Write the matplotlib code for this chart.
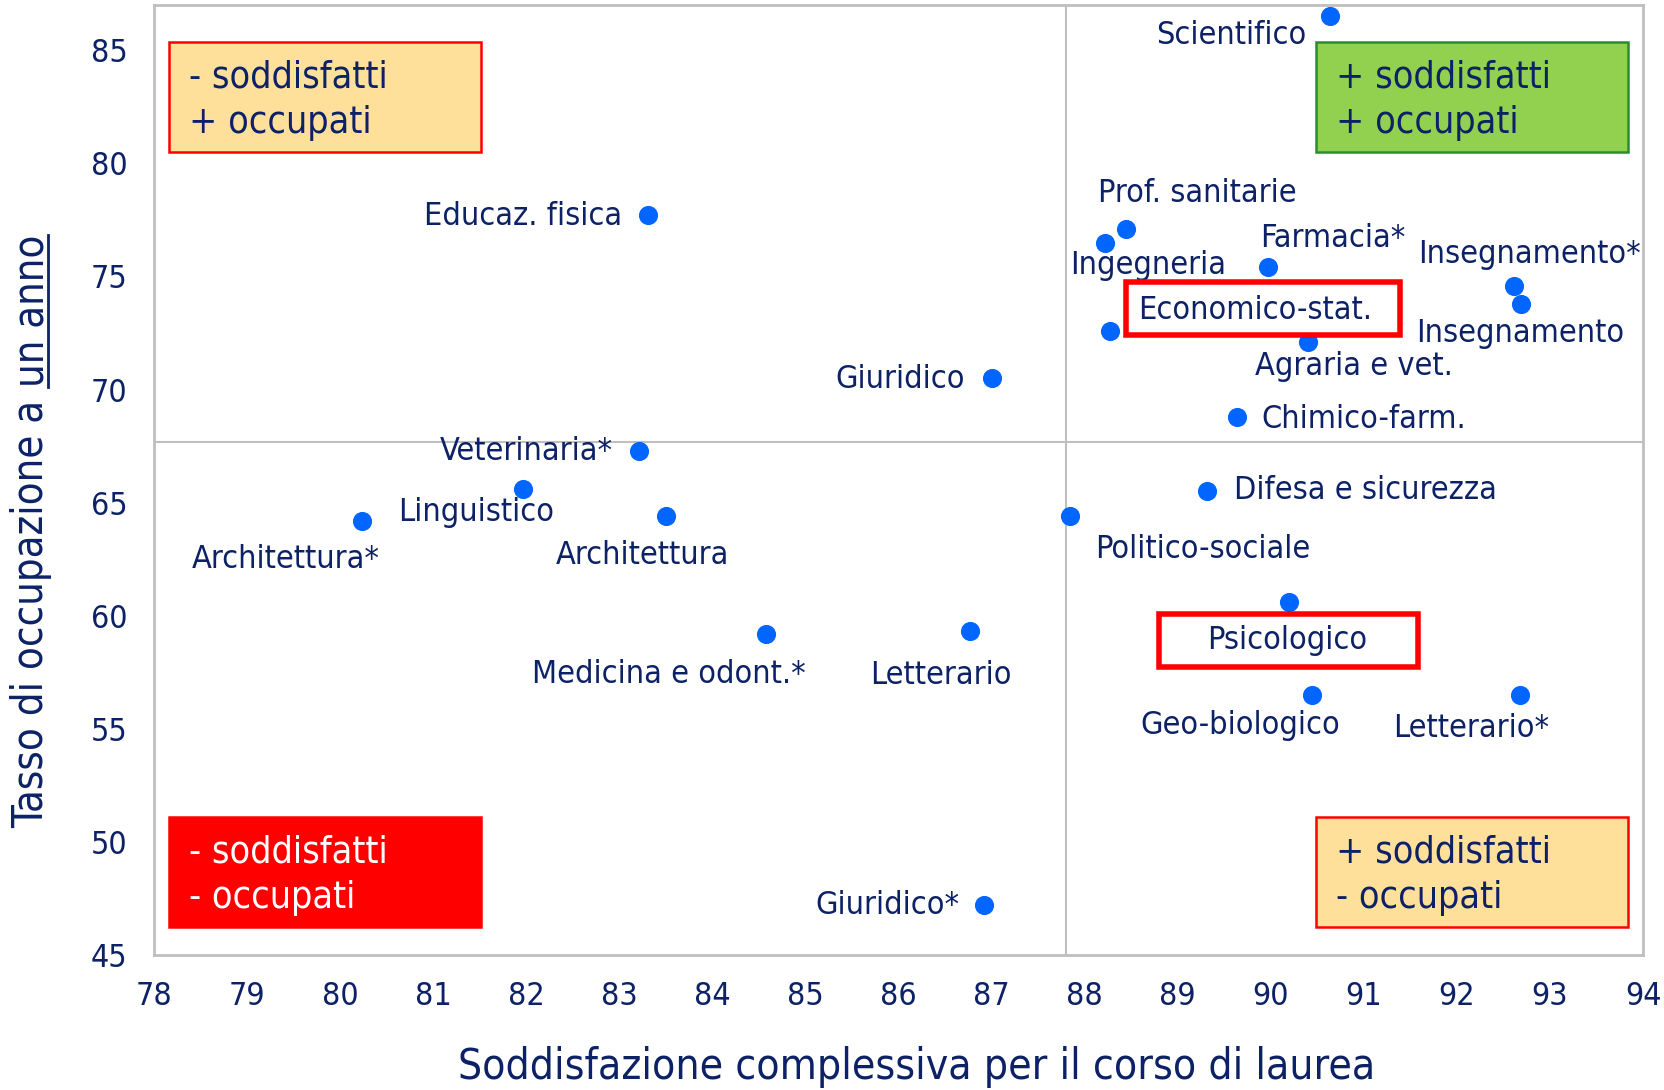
import matplotlib
matplotlib.use('Agg')
import matplotlib.pyplot as plt
from matplotlib.patches import Rectangle
from matplotlib.lines import Line2D

# Gruppi disciplinari: soddisfazione (x) e tasso di occupazione a un anno (y)
gruppi = ['Scientifico', 'Educaz. fisica', 'Prof. sanitarie', 'Ingegneria', 'Farmacia*',
          'Insegnamento*', 'Economico-stat.', 'Insegnamento', 'Agraria e vet.', 'Giuridico',
          'Chimico-farm.', 'Veterinaria*', 'Difesa e sicurezza', 'Linguistico', 'Architettura*',
          'Architettura', 'Politico-sociale', 'Psicologico', 'Medicina e odont.*', 'Letterario',
          'Geo-biologico', 'Letterario*', 'Giuridico*']
soddisfazione = [90.64, 83.31, 88.45, 88.22, 89.97,
                 92.61, 88.27, 92.69, 90.40, 87.00,
                 89.64, 83.21, 89.32, 81.97, 80.24,
                 83.50, 87.84, 90.20, 84.58, 86.77,
                 90.44, 92.68, 86.92]
occupazione = [86.5, 77.7, 77.1, 76.5, 75.4,
               74.6, 72.6, 73.8, 72.1, 70.5,
               68.8, 67.3, 65.5, 65.6, 64.2,
               64.4, 64.4, 60.6, 59.2, 59.3,
               56.5, 56.5, 47.2]
media_x = 87.8
media_y = 67.7

# spostamento delle etichette rispetto al punto (pixel)
off = {
    'Scientifico': (-99, -19), 'Educaz. fisica': (-125, -1), 'Prof. sanitarie': (71, 35),
    'Ingegneria': (43, -23), 'Farmacia*': (65, 29), 'Insegnamento*': (16, 31),
    'Economico-stat.': (145, 20), 'Insegnamento': (-1, -30), 'Agraria e vet.': (46, -24),
    'Giuridico': (-91, -1), 'Chimico-farm.': (126, -3), 'Veterinaria*': (-112, -1),
    'Difesa e sicurezza': (158, 1), 'Linguistico': (-47, -23), 'Architettura*': (-77, -39),
    'Architettura': (-23, -39), 'Politico-sociale': (133, -33), 'Psicologico': (-2, -38),
    'Medicina e odont.*': (-97, -41), 'Letterario': (-29, -44), 'Geo-biologico': (-71, -31),
    'Letterario*': (-49, -34), 'Giuridico*': (-97, 0),
}

blu = '#0D2266'
grigio = '#BFBFBF'

plt.rcParams['font.family'] = ['DejaVu Sans']
plt.rcParams['font.stretch'] = 'condensed'

fig = plt.figure(figsize=(16.64, 10.90), dpi=100)
ax = fig.add_axes([0.0925, 0.124, 0.8949, 0.8713])

ax.axvline(media_x, color=grigio, lw=1.5, zorder=1)
ax.axhline(media_y, color=grigio, lw=1.5, zorder=1)
ax.scatter(soddisfazione, occupazione, s=190, color='#0066FF', zorder=3, linewidths=0)

for nome, x, y in zip(gruppi, soddisfazione, occupazione):
    dx, dy = off[nome]
    ax.annotate(nome, (x, y), xytext=(dx, dy), textcoords='offset pixels',
                ha='center', va='center', fontsize=23.2, color=blu, zorder=4)

# riquadri rossi di evidenza
for x0, y0, w, h in [(0.6529, 0.6525, 0.1839, 0.0559), (0.675, 0.3028, 0.1739, 0.0559)]:
    ax.add_patch(Rectangle((x0, y0), w, h, transform=ax.transAxes, fill=False,
                           edgecolor='#FF0000', lw=4, zorder=5))

# quadranti
quadranti = [
    (0.0100, 0.845, '#FFE09A', '#FF0000', ['- soddisfatti', '+ occupati'], blu),
    (0.7805, 0.845, '#92D050', '#2E8B2E', ['+ soddisfatti', '+ occupati'], blu),
    (0.0100, 0.029, '#FF0000', '#FF0000', ['- soddisfatti', '- occupati'], 'white'),
    (0.7805, 0.029, '#FFE09A', '#FF0000', ['+ soddisfatti', '- occupati'], blu),
]
for x0, y0, fc, ec, righe, tc in quadranti:
    ax.add_patch(Rectangle((x0, y0), 0.2095, 0.116, transform=ax.transAxes,
                           facecolor=fc, edgecolor=ec, lw=1.8, zorder=2))
    ax.text(x0 + 0.0135, y0 + 0.079, righe[0], transform=ax.transAxes, fontsize=27,
            color=tc, va='center', ha='left', zorder=3)
    ax.text(x0 + 0.0135, y0 + 0.031, righe[1], transform=ax.transAxes, fontsize=27,
            color=tc, va='center', ha='left', zorder=3)

ax.set_xlim(78, 94)
ax.set_ylim(45, 87)
ax.set_xticks(range(78, 95))
ax.set_yticks(range(45, 86, 5))
ax.tick_params(length=0, labelsize=23, labelcolor=blu, pad=19)
for s in ax.spines.values():
    s.set_color(grigio)
    s.set_linewidth(2)

ax.set_xlabel('Soddisfazione complessiva per il corso di laurea', fontsize=30.5,
              color=blu, labelpad=24)
ax.xaxis.label.set_x(0.512)

# etichetta asse y con "un anno" sottolineato
fig.canvas.draw()
r = fig.canvas.get_renderer()
t1 = fig.text(0.019, 0.24, 'Tasso di occupazione a', rotation=90, ha='center',
              va='bottom', fontsize=30, color=blu)
b1 = t1.get_window_extent(r).transformed(fig.transFigure.inverted())
t2 = fig.text(0.019, b1.y1 + 0.012, 'un anno', rotation=90, ha='center',
              va='bottom', fontsize=30, color=blu)
b2 = t2.get_window_extent(r)
xu = (b2.x1 - 5) / fig.bbox.width
fig.add_artist(Line2D([xu, xu], [b2.y0 / fig.bbox.height, b2.y1 / fig.bbox.height],
                      transform=fig.transFigure, color=blu, lw=2))

fig.savefig('out.png', dpi=100)
